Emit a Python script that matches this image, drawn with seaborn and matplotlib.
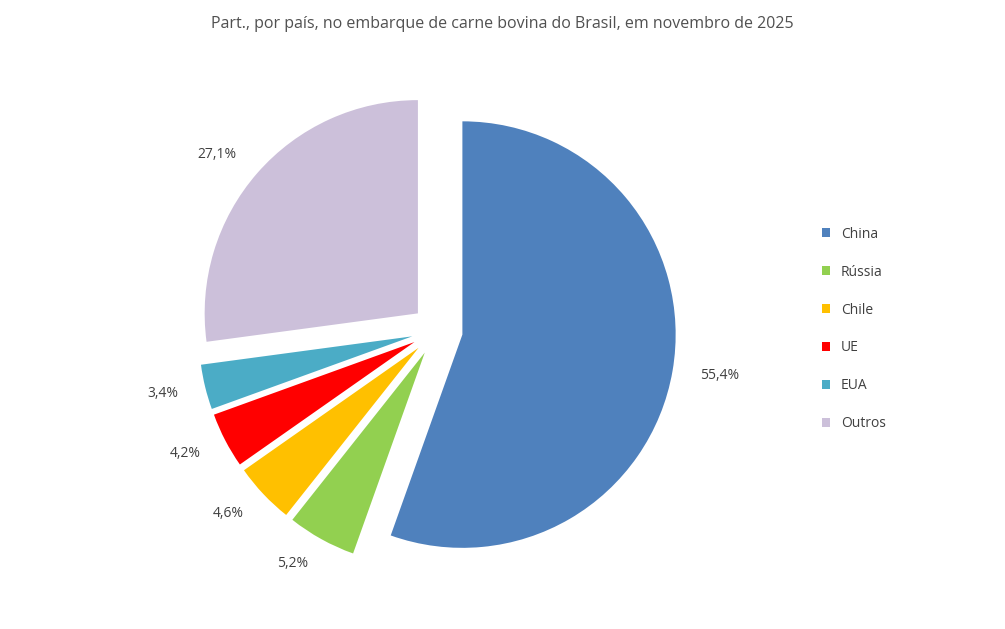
import matplotlib
matplotlib.use("Agg")
import matplotlib.pyplot as plt
import seaborn as sns

paises = ["China", "Rússia", "Chile", "UE", "EUA", "Outros"]
participacao = [55.4, 5.2, 4.6, 4.2, 3.4, 27.1]
cores = ["#4f81bd", "#92d050", "#ffc000", "#ff0000", "#4bacc6", "#ccc0da"]

sns.set_theme(style="white")
plt.rcParams["font.family"] = ["Open Sans", "DejaVu Sans"]

fig = plt.figure(figsize=(10.05, 6.29), dpi=100)
ax = fig.add_axes([0.0, 0.0, 0.87, 0.95])
ax.set_facecolor("white")

wedges, texts = ax.pie(
    participacao,
    colors=cores,
    startangle=90,
    counterclock=False,
    explode=[0.12] * len(participacao),
    labels=[f"{v:.1f}%".replace(".", ",") for v in participacao],
    labeldistance=1.13,
    textprops={"fontsize": 10, "color": "#404040"},
    wedgeprops={"linewidth": 0},
)
ax.set_aspect("equal")
ax.set_xlim(-2.05, 2.05)
ax.set_ylim(-1.3, 1.3)

fig.legend(
    wedges, paises, loc="center left", bbox_to_anchor=(0.805, 0.477),
    frameon=False, fontsize=10, labelspacing=1.65, handlelength=0.6,
    handleheight=0.6, labelcolor="#404040",
)
fig.suptitle(
    "Part., por país, no embarque de carne bovina do Brasil, em novembro de 2025",
    y=0.975, fontsize=11.5, color="#505050",
)
fig.savefig("out.png", dpi=100, facecolor="white")
